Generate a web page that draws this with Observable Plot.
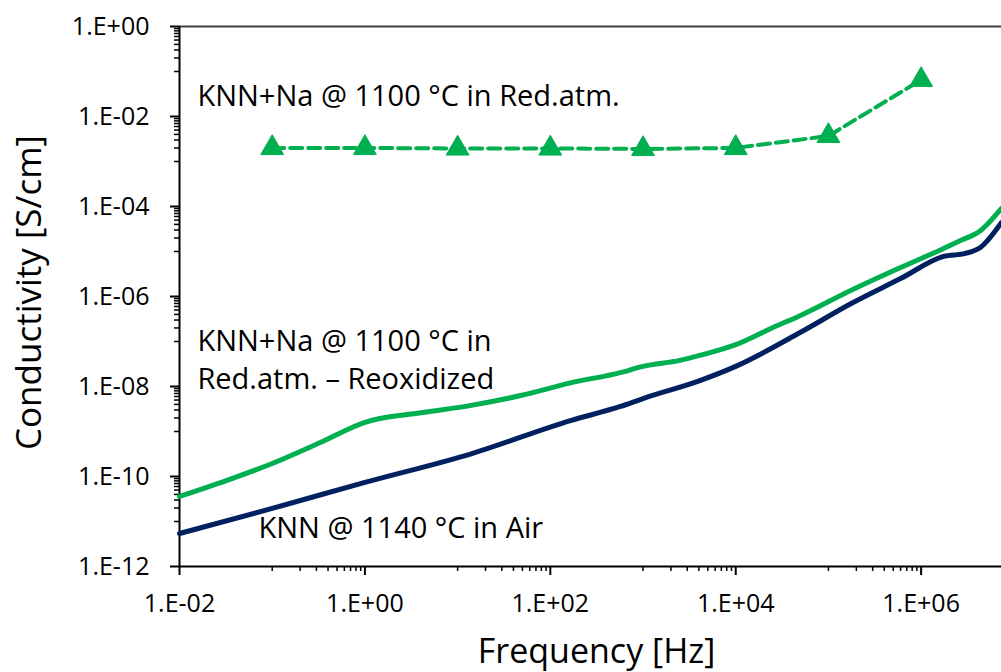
<!DOCTYPE html>
<html><head><meta charset="utf-8">
<script src="https://cdn.jsdelivr.net/npm/d3@7"></script>
<script src="https://cdn.jsdelivr.net/npm/@observablehq/plot@0.6"></script>
<style>body{margin:0;background:#fff} svg{display:block}</style>
</head><body><div id="chart"></div>
<script>
// KNN+Na @ 1100 °C in Red.atm. (dashed with triangles)
const redFreq = [1e-1, 1e0, 1e1, 1e2, 1e3, 1e4, 1e5, 1e6];
const redCond = [2.0e-3, 2.0e-3, 1.95e-3, 1.95e-3, 1.9e-3, 2.0e-3, 3.7e-3, 6.5e-2];
// KNN+Na @ 1100 °C in Red.atm. – Reoxidized (green solid)
const reoxFreq = [0.01, 0.032, 0.1, 0.33, 1, 4, 14, 48, 165, 570, 1000, 2500, 4100, 1e4, 2.4e4, 5e4, 1.74e5, 6e5, 1.75e6, 2.66e6, 4.36e6, 7.36e6];
const reoxCond = [3.6e-11, 8.1e-11, 1.95e-10, 5.7e-10, 1.6e-9, 2.6e-9, 3.8e-9, 6.3e-9, 1.2e-8, 2.04e-8, 2.8e-8, 3.8e-8, 4.9e-8, 8.5e-8, 1.95e-7, 3.8e-7, 1.36e-6, 4.4e-6, 1.17e-5, 1.75e-5, 2.9e-5, 9.1e-5];
// KNN @ 1140 °C in Air (navy solid)
const airFreq = [0.01, 0.1, 1, 14, 165, 570, 1000, 4100, 1e4, 5e4, 1.74e5, 6e5, 1.75e6, 3e6, 4.36e6, 7.36e6];
const airCond = [5.4e-12, 1.95e-11, 7.4e-11, 3.2e-10, 1.75e-9, 3.6e-9, 5.4e-9, 1.35e-8, 2.8e-8, 1.6e-7, 6.9e-7, 2.5e-6, 7.8e-6, 9.1e-6, 1.23e-5, 4.4e-5];

// Axis ticks
const xMajor = [1e-2, 1e0, 1e2, 1e4, 1e6];
const yMajor = [1e-12, 1e-10, 1e-8, 1e-6, 1e-4, 1e-2, 1e0];
const xMinorBases = [1e-1, 1e1, 1e3, 1e5];
const yMinorBases = [1e-11, 1e-9, 1e-7, 1e-5, 1e-3, 1e-1];
const minorMult = [1, 2, 3, 4, 5, 6, 7, 8, 9];

// Annotations
const labelTexts = ["KNN+Na @ 1100 °C in Red.atm.", "KNN+Na @ 1100 °C in\nRed.atm. – Reoxidized", "KNN @ 1140 °C in Air"];
const labelX = [0.0156, 0.0156, 0.0711];
const labelY = [1.75e-2, 9.0e-9, 4.2e-12];
const xTitle = "Frequency [Hz]";
const yTitle = "Conductivity [S/cm]";

const toRows = (xs, ys) => xs.map((x, i) => ({x, y: ys[i]}));
const red = toRows(redFreq, redCond);
const reox = toRows(reoxFreq, reoxCond);
const air = toRows(airFreq, airCond);
const labels = labelTexts.map((t, i) => ({t, x: labelX[i], y: labelY[i]}));
const xMinor = xMinorBases.flatMap(b => minorMult.map(m => b * m)).filter(v => !xMajor.includes(v));
const yMinor = yMinorBases.flatMap(b => minorMult.map(m => b * m)).filter(v => !yMajor.includes(v));

const fmt = d => { const e = Math.round(Math.log10(d)); return "1.E" + (e < 0 ? "-" : "+") + String(Math.abs(e)).padStart(2, "0"); };

const GREEN = "#00B050", NAVY = "#002060";
const FONT = "'Open Sans', sans-serif";

const chart = Plot.plot({
  width: 1001, height: 672,
  marginLeft: 179, marginRight: 0, marginTop: 26, marginBottom: 106,
  style: {fontFamily: FONT, color: "#000", background: "#fff", overflow: "visible"},
  x: {type: "log", domain: [0.01, 7.36e6], label: null},
  y: {type: "log", domain: [1e-12, 1], label: null},
  marks: [
    Plot.ruleY([1], {stroke: "#404040", strokeWidth: 2}),
    Plot.axisX(xMinor, {tickSize: 5, tickFormat: () => "", strokeWidth: 1.5, label: null}),
    Plot.axisY(yMinor, {tickSize: 5, tickFormat: () => "", strokeWidth: 1.5, label: null}),
    Plot.axisX(xMajor, {tickSize: 9, tickPadding: 19, tickFormat: fmt, strokeWidth: 2, fontSize: 25, label: null}),
    Plot.axisY(yMajor, {tickSize: 9, tickPadding: 21, tickFormat: fmt, strokeWidth: 2, fontSize: 25, label: null}),
    Plot.ruleX([0.01], {stroke: "#000", strokeWidth: 2}),
    Plot.ruleY([1e-12], {stroke: "#000", strokeWidth: 2}),
    Plot.line(air, {x: "x", y: "y", stroke: NAVY, strokeWidth: 5, curve: "monotone-x"}),
    Plot.line(reox, {x: "x", y: "y", stroke: GREEN, strokeWidth: 5, curve: "monotone-x"}),
    Plot.line(red, {x: "x", y: "y", stroke: GREEN, strokeWidth: 4, strokeDasharray: "12,6"}),
    Plot.dot(red, {x: "x", y: "y", symbol: "triangle", r: 8.5, fill: GREEN, stroke: GREEN, strokeWidth: 1}),
    Plot.text(labels, {x: "x", y: "y", text: "t", textAnchor: "start", lineAnchor: "bottom", lineHeight: 1.3, fontSize: 29, fill: "#000"}),
    Plot.text([xTitle], {frameAnchor: "bottom", textAnchor: "middle", dx: 6, dy: 96, lineAnchor: "bottom", fontSize: 34, fill: "#000"}),
    Plot.text([yTitle], {frameAnchor: "left", textAnchor: "middle", dx: -150, dy: -4, rotate: -90, lineAnchor: "middle", fontSize: 35, fill: "#000"})
  ]
});
document.getElementById("chart").appendChild(chart);
</script>
</body></html>
